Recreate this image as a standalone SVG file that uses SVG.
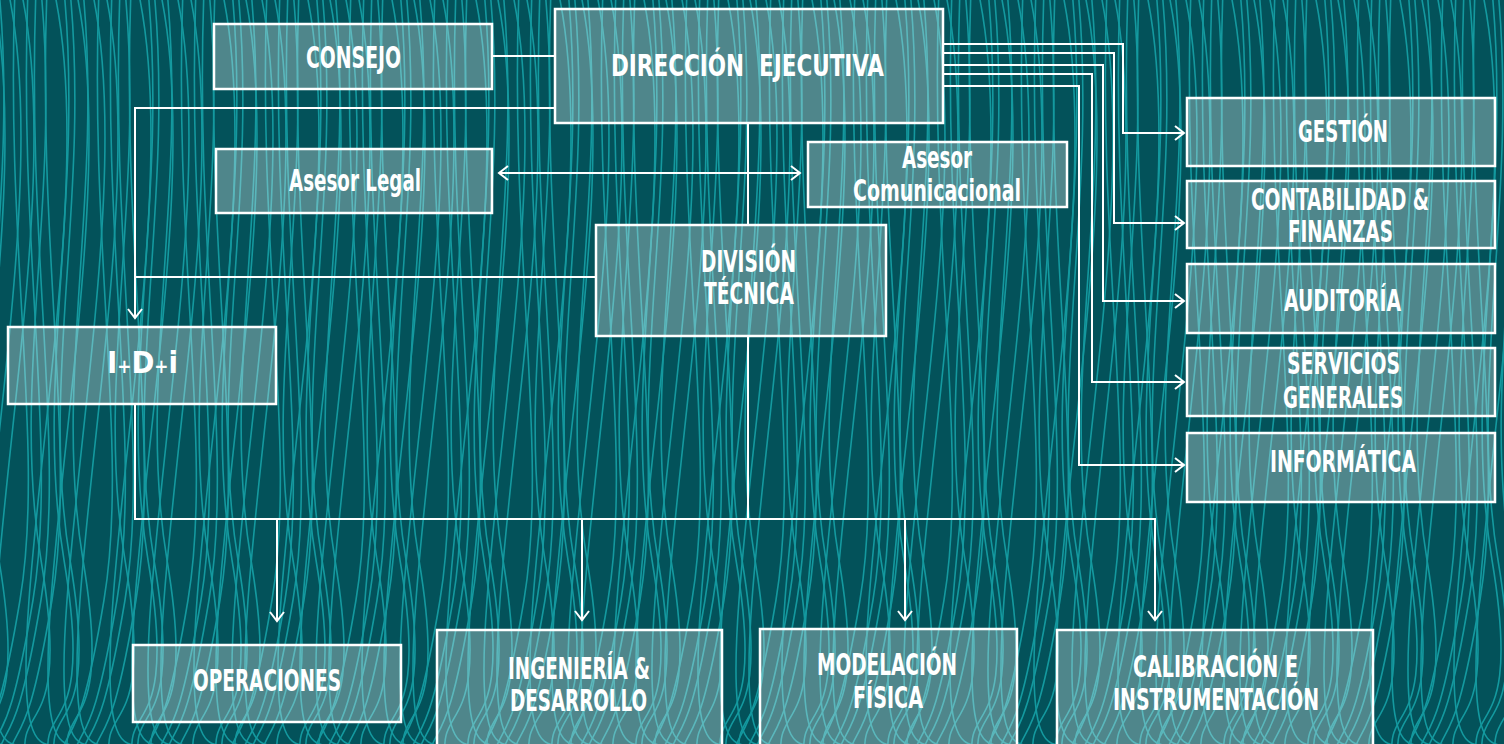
<svg xmlns="http://www.w3.org/2000/svg" xmlns:xlink="http://www.w3.org/1999/xlink" width="1504" height="744" viewBox="0 0 1504 744">
<style>
.bg{fill:#03525a}
.w{fill:none;stroke:#14999f;stroke-width:1.6}
.box{fill:#ffffff;fill-opacity:0.3;stroke:#ffffff;stroke-width:2.5}
.t{fill:#ffffff;font-family:"DejaVu Sans Condensed","Liberation Sans Narrow","Roboto Condensed","DejaVu Sans",sans-serif;font-weight:bold;font-size:31px;font-stretch:condensed}
.c{fill:none;stroke:#ffffff;stroke-width:2}
</style>
<defs>
<marker id="ah" markerUnits="userSpaceOnUse" markerWidth="20" markerHeight="20" refX="0" refY="0" viewBox="-12 -10 14 20" orient="auto-start-reverse">
<path d="M-9,-7 L0,0 L-9,7" fill="none" stroke="#ffffff" stroke-width="2"/>
</marker>
<path id="w1" d="M0,-10 C20,200 -30,380 0,560 S -25,700 -15,760"/>
<path id="w2" d="M0,-10 C35,150 -10,400 -25,600 S 5,720 10,760"/>
<path id="w3" d="M0,-10 C-10,250 30,450 5,600 S -30,720 -40,760"/>
<g id="b1"><use xlink:href="#w1"/><use xlink:href="#w1" x="6"/><use xlink:href="#w2" x="12"/><use xlink:href="#w1" x="19"/></g>
<g id="b2"><use xlink:href="#w2"/><use xlink:href="#w3" x="7"/><use xlink:href="#w2" x="13"/><use xlink:href="#w3" x="20"/></g>
<g id="b3"><use xlink:href="#w3"/><use xlink:href="#w1" x="5"/><use xlink:href="#w3" x="11"/><use xlink:href="#w2" x="18"/></g>
</defs>
<rect class="bg" x="0" y="0" width="1504" height="744"/>
<g id="waves" class="w">
<use xlink:href="#b1" x="-20"/><use xlink:href="#b2" x="8"/><use xlink:href="#b3" x="36"/><use xlink:href="#b1" x="64"/><use xlink:href="#b2" x="92"/><use xlink:href="#b3" x="120"/><use xlink:href="#b1" x="148"/><use xlink:href="#b2" x="176"/><use xlink:href="#b3" x="204"/><use xlink:href="#b1" x="232"/><use xlink:href="#b2" x="260"/><use xlink:href="#b3" x="288"/><use xlink:href="#b1" x="316"/><use xlink:href="#b2" x="344"/><use xlink:href="#b3" x="372"/><use xlink:href="#b1" x="400"/><use xlink:href="#b2" x="428"/><use xlink:href="#b3" x="456"/><use xlink:href="#b1" x="484"/><use xlink:href="#b2" x="512"/><use xlink:href="#b3" x="540"/><use xlink:href="#b1" x="568"/><use xlink:href="#b2" x="596"/><use xlink:href="#b3" x="624"/><use xlink:href="#b1" x="652"/><use xlink:href="#b2" x="680"/><use xlink:href="#b3" x="708"/><use xlink:href="#b1" x="736"/><use xlink:href="#b2" x="764"/><use xlink:href="#b3" x="792"/><use xlink:href="#b1" x="820"/><use xlink:href="#b2" x="848"/><use xlink:href="#b3" x="876"/><use xlink:href="#b1" x="904"/><use xlink:href="#b2" x="932"/><use xlink:href="#b3" x="960"/><use xlink:href="#b1" x="988"/><use xlink:href="#b2" x="1016"/><use xlink:href="#b3" x="1044"/><use xlink:href="#b1" x="1072"/><use xlink:href="#b2" x="1100"/><use xlink:href="#b3" x="1128"/><use xlink:href="#b1" x="1156"/><use xlink:href="#b2" x="1184"/><use xlink:href="#b3" x="1212"/><use xlink:href="#b1" x="1240"/><use xlink:href="#b2" x="1268"/><use xlink:href="#b3" x="1296"/><use xlink:href="#b1" x="1324"/><use xlink:href="#b2" x="1352"/><use xlink:href="#b3" x="1380"/><use xlink:href="#b1" x="1408"/><use xlink:href="#b2" x="1436"/><use xlink:href="#b3" x="1464"/><use xlink:href="#b1" x="1492"/>
</g>
<g id="connectors" class="c">
<path d="M492,56 H555"/>
<path d="M555,108 H135 V318" marker-end="url(#ah)"/>
<path d="M596,277 H135"/>
<path d="M499,173 H800" marker-start="url(#ah)" marker-end="url(#ah)"/>
<path d="M748,123 V225"/>
<path d="M748,336 V519"/>
<path d="M135,404 V519 H1155 V620" marker-end="url(#ah)"/>
<path d="M277,519 V621" marker-end="url(#ah)"/>
<path d="M582,519 V620" marker-end="url(#ah)"/>
<path d="M905,519 V620" marker-end="url(#ah)"/>
<path d="M943,44 H1123 V133 H1184" marker-end="url(#ah)"/>
<path d="M943,53 H1114 V223 H1184" marker-end="url(#ah)"/>
<path d="M943,65 H1103 V301 H1184" marker-end="url(#ah)"/>
<path d="M943,74 H1092 V382 H1184" marker-end="url(#ah)"/>
<path d="M943,86 H1079 V465 H1184" marker-end="url(#ah)"/>
</g>
<g id="consejo"><rect class="box" x="214" y="24" width="278" height="65"/><text class="t" x="306" y="68" textLength="95" lengthAdjust="spacingAndGlyphs">CONSEJO</text></g>
<g id="direccion"><rect class="box" x="555" y="9" width="388" height="114"/><text class="t" x="611" y="76" textLength="273" lengthAdjust="spacingAndGlyphs" xml:space="preserve">DIRECCIÓN  EJECUTIVA</text></g>
<g id="asesor-legal"><rect class="box" x="216" y="149" width="276" height="64"/><text class="t" x="289" y="191" textLength="132" lengthAdjust="spacingAndGlyphs">Asesor Legal</text></g>
<g id="asesor-com"><rect class="box" x="808" y="142" width="259" height="65"/><text class="t" x="902" y="168" textLength="70" lengthAdjust="spacingAndGlyphs">Asesor</text><text class="t" x="853" y="201" textLength="168" lengthAdjust="spacingAndGlyphs">Comunicacional</text></g>
<g id="division"><rect class="box" x="596" y="225" width="290" height="111"/><text class="t" x="701" y="272" textLength="95" lengthAdjust="spacingAndGlyphs">DIVISIÓN</text><text class="t" x="704" y="304" textLength="90" lengthAdjust="spacingAndGlyphs">TÉCNICA</text></g>
<g id="idi"><rect class="box" x="8" y="327" width="268" height="77"/><text class="t" x="107" y="373" textLength="71" lengthAdjust="spacingAndGlyphs">I<tspan font-size="19">+</tspan>D<tspan font-size="19">+</tspan>i</text></g>
<g id="gestion"><rect class="box" x="1187" y="98" width="308" height="68"/><text class="t" x="1298" y="142" textLength="90" lengthAdjust="spacingAndGlyphs">GESTIÓN</text></g>
<g id="contabilidad"><rect class="box" x="1187" y="181" width="308" height="67"/><text class="t" x="1251" y="210" textLength="178" lengthAdjust="spacingAndGlyphs">CONTABILIDAD &amp;</text><text class="t" x="1288" y="242" textLength="105" lengthAdjust="spacingAndGlyphs">FINANZAS</text></g>
<g id="auditoria"><rect class="box" x="1187" y="264" width="308" height="69"/><text class="t" x="1284" y="311" textLength="117" lengthAdjust="spacingAndGlyphs">AUDITORÍA</text></g>
<g id="servicios"><rect class="box" x="1187" y="348" width="308" height="68"/><text class="t" x="1287" y="374" textLength="113" lengthAdjust="spacingAndGlyphs">SERVICIOS</text><text class="t" x="1283" y="408" textLength="120" lengthAdjust="spacingAndGlyphs">GENERALES</text></g>
<g id="informatica"><rect class="box" x="1187" y="433" width="308" height="69"/><text class="t" x="1270" y="472" textLength="146" lengthAdjust="spacingAndGlyphs">INFORMÁTICA</text></g>
<g id="operaciones"><rect class="box" x="133" y="645" width="268" height="77"/><text class="t" x="193" y="691" textLength="148" lengthAdjust="spacingAndGlyphs">OPERACIONES</text></g>
<g id="ingenieria"><rect class="box" x="437" y="630" width="285" height="130"/><text class="t" x="508" y="679" textLength="142" lengthAdjust="spacingAndGlyphs">INGENIERÍA &amp;</text><text class="t" x="510" y="711" textLength="137" lengthAdjust="spacingAndGlyphs">DESARROLLO</text></g>
<g id="modelacion"><rect class="box" x="760" y="629" width="257" height="130"/><text class="t" x="817" y="675" textLength="140" lengthAdjust="spacingAndGlyphs">MODELACIÓN</text><text class="t" x="853" y="708" textLength="70" lengthAdjust="spacingAndGlyphs">FÍSICA</text></g>
<g id="calibracion"><rect class="box" x="1057" y="630" width="316" height="130"/><text class="t" x="1133" y="677" textLength="165" lengthAdjust="spacingAndGlyphs">CALIBRACIÓN E</text><text class="t" x="1113" y="710" textLength="206" lengthAdjust="spacingAndGlyphs">INSTRUMENTACIÓN</text></g>
</svg>
